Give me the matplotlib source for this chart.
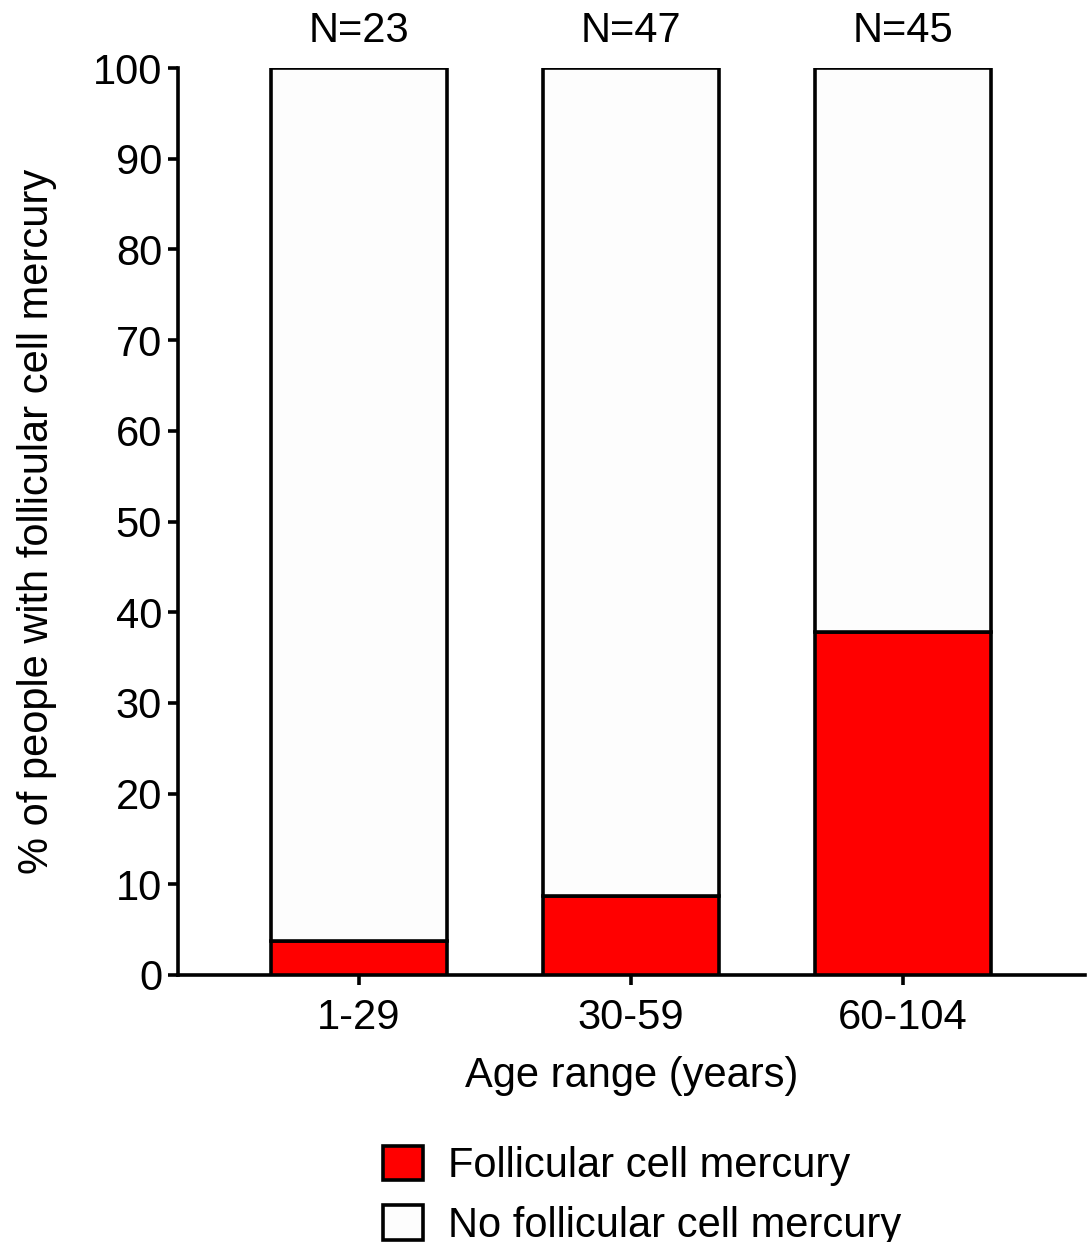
import matplotlib
matplotlib.use("Agg")
import matplotlib.pyplot as plt
import numpy as np

plt.rcParams['font.family'] = ['Liberation Sans', 'DejaVu Sans']

categories = ["1-29", "30-59", "60-104"]
n_labels = ["N=23", "N=47", "N=45"]
with_mercury = [3.8, 8.7, 37.8]
total = [100, 100, 100]
without_mercury = [t - w for t, w in zip(total, with_mercury)]

W, H = 1091, 1242
fig = plt.figure(figsize=(W / 100, H / 100), dpi=100)
ax = fig.add_axes([178 / W, 1 - 975 / H, (1085 - 178) / W, (975 - 68) / H])

x = np.arange(len(categories))
bw = 0.647
lw = 2.6
fs = 30
b1 = ax.bar(x, with_mercury, bw, color="#FF0000", edgecolor="black", linewidth=lw,
            label="Follicular cell mercury", zorder=3)
b2 = ax.bar(x, without_mercury, bw, bottom=with_mercury, color="#FDFDFD", edgecolor="black",
            linewidth=lw, label="No follicular cell mercury", zorder=3)

ax.set_xlim(-0.6654, 2.669)
ax.set_ylim(0, 100)
ax.set_yticks(np.arange(0, 101, 10))
ax.set_xticks(x)
ax.set_xticklabels(categories)
for s in ["top", "right"]:
    ax.spines[s].set_visible(False)
for s in ["left", "bottom"]:
    ax.spines[s].set_linewidth(lw)
ax.tick_params(axis="both", length=7.5, width=lw, labelsize=fs)
ax.tick_params(axis="y", pad=4)
ax.tick_params(axis="x", pad=9)

for xi, lab in zip(x, n_labels):
    ax.annotate(lab, xy=(xi, 100), xytext=(0, 19), textcoords="offset points",
                ha="center", va="baseline", fontsize=fs, annotation_clip=False)

ax.set_ylabel("% of people with follicular cell mercury", fontsize=fs, labelpad=26)
ax.set_xlabel("Age range (years)", fontsize=fs, labelpad=13)

leg = fig.legend(handles=[b1, b2], loc="upper left", bbox_to_anchor=(366 / W, 1 - 1129 / H),
                 frameon=False, fontsize=fs, handlelength=0.96, handleheight=0.9,
                 handletextpad=0.6, labelspacing=0.45, borderaxespad=0)

fig.savefig("out.png", dpi=100)
